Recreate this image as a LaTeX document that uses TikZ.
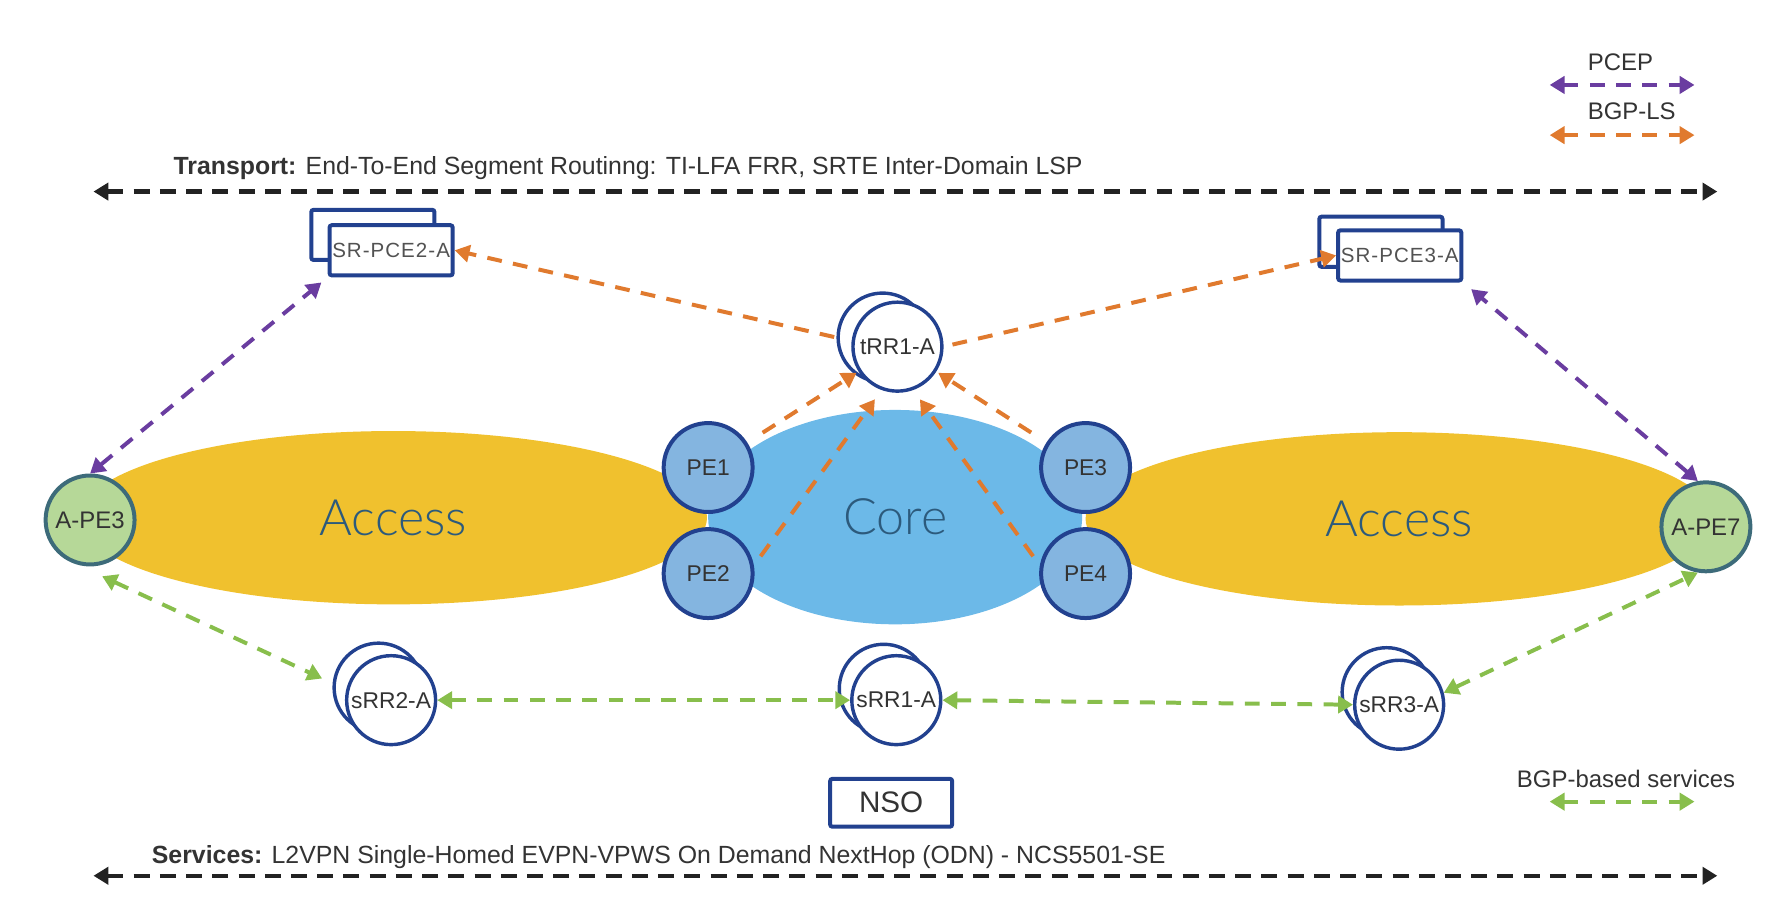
\documentclass[tikz,border=0pt]{standalone}
\usepackage{fontspec}
\setmainfont{Liberation Sans}
\newfontfamily\thinfont{Lato Light}
\newfontfamily\pcefont{Liberation Sans}[LetterSpace=5]
\usetikzlibrary{arrows.meta,shapes.geometric}

\definecolor{peblue}{HTML}{22418F}
\definecolor{pefill}{HTML}{84B5E0}
\definecolor{apefill}{HTML}{B6D898}
\definecolor{apeborder}{HTML}{3D6B7A}
\definecolor{accessyellow}{HTML}{F0C12E}
\definecolor{coreblue}{HTML}{6CB9E8}
\definecolor{areatext}{HTML}{2C5A7C}
\definecolor{txtgray}{HTML}{333333}
\definecolor{pcepurple}{HTML}{6A3DA0}
\definecolor{lsorange}{HTML}{E07A2E}
\definecolor{svcgreen}{HTML}{88BE4C}
\definecolor{lineblack}{HTML}{222222}

\begin{document}
\begin{tikzpicture}[x=1pt,y=-1pt,
    area/.style={ellipse, inner sep=0pt, text=areatext, font=\thinfont\fontsize{44}{50}\selectfont},
    pe/.style={circle, draw=peblue, fill=pefill, line width=3.5pt, minimum size=78pt, inner sep=0pt,
      text=txtgray, font=\fontsize{20}{24}\selectfont},
    ape/.style={pe, draw=apeborder, fill=apefill, font=\fontsize{21}{24}\selectfont},
    rr/.style={pe, fill=white, line width=3pt},
    pce/.style={rectangle, rounded corners=2pt, draw=peblue, fill=white, line width=3.5pt,
      minimum width=108pt, minimum height=44pt, inner sep=0pt, text=txtgray!85,
      font=\pcefont\fontsize{18}{22}\selectfont},
    nso/.style={pce, minimum width=107pt, minimum height=42pt, text=txtgray, font=\fontsize{26}{30}\selectfont},
    legend/.style={text=txtgray, font=\fontsize{21}{24}\selectfont},
    banner/.style={anchor=west, inner sep=0pt, text=txtgray, font=\fontsize{21.8}{26}\selectfont},
    link/.style={line width=3.5pt, dash pattern=on 13pt off 10pt,
      {Triangle[length=13pt,width=15pt]}-{Triangle[length=13pt,width=15pt]}},
    pcep/.style={link, pcepurple},
    bgpls/.style={link, lsorange, -{Triangle[length=13pt,width=15pt]}},
    svc/.style={link, svcgreen},
    span/.style={link, lineblack, line width=3.8pt, dash pattern=on 14pt off 9pt}]
  \useasboundingbox (0,0) rectangle (1568,807.7);

  \node[area, fill=accessyellow, minimum width=550pt, minimum height=152pt] (accessL) at (345,454) {Access};
  \node[area, fill=accessyellow, minimum width=550pt, minimum height=152pt] (accessR) at (1227,455) {Access};
  \node[area, fill=coreblue, minimum width=328pt, minimum height=188pt] (core) at (785,453.5) {Core};

  \node[pe] (PE1) at (621,410) {PE1};
  \node[pe] (PE2) at (621,503) {PE2};
  \node[pe] (PE3) at (952,410) {PE3};
  \node[pe] (PE4) at (952,503) {PE4};
  \node[ape] (APE3) at (79,456) {A-PE3};
  \node[ape] (APE7) at (1496,462) {A-PE7};

  \node[rr] (tRR1back) at (774,296) {};
  \node[rr] (tRR1) at (787,304) {tRR1-A};
  \node[rr] (sRR2back) at (332,603) {};
  \node[rr] (sRR2) at (343,614) {sRR2-A};
  \node[rr] (sRR1back) at (775,604) {};
  \node[rr] (sRR1) at (786,614) {sRR1-A};
  \node[rr] (sRR3back) at (1216,607) {};
  \node[rr] (sRR3) at (1227,618) {sRR3-A};

  \node[pce] (PCE2back) at (327,206) {};
  \node[pce] (PCE2) at (343,219.5) {SR-PCE2-A};
  \node[pce] (PCE3back) at (1211,212) {};
  \node[pce] (PCE3) at (1227.5,224) {SR-PCE3-A};

  \node[nso] (NSO) at (781.5,704) {NSO};

  \draw[pcep, shorten >=7pt] (APE3.north) -- (PCE2.south west);
  \draw[pcep, shorten >=9pt] (APE7.100) -- (PCE3.south east);

  \draw[bgpls, shorten <=2pt] (tRR1back.west) -- (PCE2.east);
  \draw[bgpls, shorten <=8pt] (tRR1.east) -- (PCE3.west);
  \draw[bgpls, shorten <=16pt, shorten >=2pt] (PE1) -- (tRR1);
  \draw[bgpls, shorten <=16pt, shorten >=2pt] (PE3) -- (tRR1);
  \draw[bgpls, shorten <=10pt, shorten >=10pt] (PE2.10) -- (tRR1.250);
  \draw[bgpls, shorten <=10pt, shorten >=10pt] (PE4.170) -- (tRR1.290);

  \draw[svc] ([yshift=-10pt]APE3.-75) -- ([xshift=-9pt,yshift=8pt]sRR2back.west);
  \draw[svc] (sRR2.east) -- (sRR1.west);
  \draw[svc] (sRR1.east) -- (sRR3.west);
  \draw[svc] (sRR3.15) -- (APE7.-100);

  \node[banner] (transport) at (152,147) {\textbf{Transport:} End-To-End Segment Routinng: TI-LFA FRR, SRTE Inter-Domain LSP};
  \coordinate (transportL) at (82,168);
  \coordinate (transportR) at (1506,168);
  \draw[span] (transportL) -- (transportR);

  \node[banner] (services) at (133,752) {\textbf{Services:} L2VPN Single-Homed EVPN-VPWS On Demand NextHop (ODN) - NCS5501-SE};
  \coordinate (servicesL) at (82,768);
  \coordinate (servicesR) at (1506,768);
  \draw[span] (servicesL) -- (servicesR);

  \node[legend] (pceptext) at (1421,54.5) {PCEP};
  \coordinate (pcepL) at (1359,74.5);
  \coordinate (pcepR) at (1486,74.5);
  \draw[pcep] (pcepL) -- (pcepR);
  \node[legend] (bgplstext) at (1431,98) {BGP-LS};
  \coordinate (bgplsL) at (1359,118.5);
  \coordinate (bgplsR) at (1486,118.5);
  \draw[link, lsorange] (bgplsL) -- (bgplsR);
  \node[legend] (svctext) at (1426,683) {BGP-based services};
  \coordinate (svcL) at (1359,703);
  \coordinate (svcR) at (1486,703);
  \draw[svc] (svcL) -- (svcR);
\end{tikzpicture}
\end{document}
